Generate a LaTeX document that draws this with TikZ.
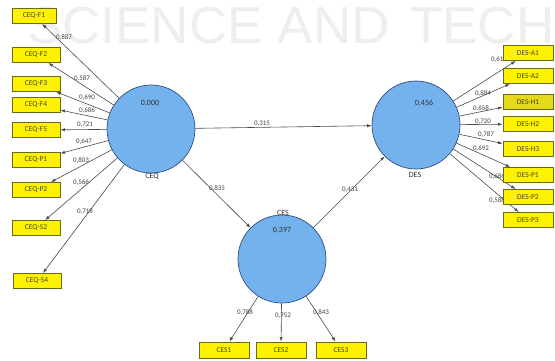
\documentclass[tikz,border=0pt]{standalone}
\usepackage{fontspec}
\setmainfont{Carlito}
\newfontfamily\wmfont{Liberation Sans}
\usetikzlibrary{arrows.meta}
\definecolor{lvf}{HTML}{74B2EE}
\definecolor{lvb}{HTML}{2E4F80}
\definecolor{indb}{HTML}{6A6A10}
\definecolor{indt}{HTML}{45451A}
\definecolor{arrc}{HTML}{4A4A4A}
\definecolor{wlc}{HTML}{444444}
\definecolor{wmc}{HTML}{EEEEEE}
\pgfdeclarelayer{wm}
\pgfdeclarelayer{bg}
\pgfsetlayers{wm,bg,main}
\tikzset{
  lv/.style={circle, draw=lvb, fill=lvf, line width=0.7pt, minimum size=88pt, inner sep=0pt},
  ind/.style={rectangle, draw=indb, fill=yellow, line width=0.9pt, minimum width=48pt, minimum height=15pt, inner sep=0pt, font=\fontsize{7.5}{8}\selectfont, text=indt},
  arr/.style={-{Latex[length=4.5pt,width=3.2pt]}, draw=arrc, line width=0.6pt},
  wl/.style={font=\fontsize{7}{8}\selectfont, text=wlc, inner sep=0.5pt},
  lvt/.style={font=\fontsize{8}{9}\selectfont, text=black!80, inner sep=0.5pt},
  wmt/.style={font=\wmfont\fontsize{52}{52}\selectfont, text=wmc, anchor=base west, inner sep=0pt, xscale=1.02}
}
\begin{document}
\begin{tikzpicture}[x=1pt,y=-1pt]
\useasboundingbox (0,0) rectangle (555,360);
\begin{pgfonlayer}{wm}
\fill[white] (0,0) rectangle (555,360);
\node[wmt] (wm1) at (27,43) {SCIENCE AND};
\node[wmt] (wm2) at (410,43) {TECH};
\end{pgfonlayer}

% latent variables
\node[lv] (ceq) at (151,129) {};
\node[lv] (des) at (416,125) {};
\node[lv] (ces) at (282,259) {};
\node[lvt] (ceqv) at (150,103) {0,000};
\node[lvt] (ceqn) at (152,176) {CEQ};
\node[lvt] (desv) at (424,103) {0,456};
\node[lvt] (desn) at (415,175) {DES};
\node[lvt] (cesn) at (283,213) {CES};
\node[lvt] (cesv) at (282,230) {0,397};

% CEQ indicators
\node[ind, minimum width=44pt] (f1) at (34,16) {CEQ-F1};
\node[ind] (f2) at (36,55) {CEQ-F2};
\node[ind] (f3) at (36,84) {CEQ-F3};
\node[ind] (f4) at (36,105) {CEQ-F4};
\node[ind] (f5) at (36,130) {CEQ-F5};
\node[ind] (p1) at (36,160) {CEQ-P1};
\node[ind] (p2) at (36,190) {CEQ-P2};
\node[ind] (s2) at (36,228) {CEQ-S2};
\node[ind] (s4) at (37,281) {CEQ-S4};

% DES indicators
\node[ind, minimum width=50pt] (a1) at (528,53) {DES-A1};
\node[ind, minimum width=50pt] (a2) at (528,76) {DES-A2};
\node[ind, minimum width=50pt, fill=yellow!88!black] (h1) at (528,102) {DES-H1};
\node[ind, minimum width=50pt] (h2) at (528,124) {DES-H2};
\node[ind, minimum width=50pt] (h3) at (528,149) {DES-H3};
\node[ind, minimum width=50pt] (dp1) at (528,175) {DES-P1};
\node[ind, minimum width=50pt] (dp2) at (528,197) {DES-P2};
\node[ind, minimum width=50pt] (dp3) at (528,220) {DES-P3};

% CES indicators
\node[ind, minimum width=50pt, minimum height=16pt] (c1) at (224,350) {CES1};
\node[ind, minimum width=50pt, minimum height=16pt] (c2) at (281,350) {CES2};
\node[ind, minimum width=50pt, minimum height=16pt] (c3) at (341,350) {CES3};

\begin{pgfonlayer}{bg}
\foreach \t in {f1,f2,f3,f4,f5,p1,p2,s2,s4} \draw[arr] (ceq) -- (\t);
\foreach \t in {a1,a2,h1,h2,h3,dp1,dp2,dp3} \draw[arr] (des) -- (\t);
\foreach \t in {c1,c2,c3} \draw[arr] (ces) -- (\t);
\draw[arr] (ceq) -- (des);
\draw[arr] (ceq) -- (ces);
\draw[arr] (ces) -- (des);

% outer loadings
\node[wl] (w1) at (64,38) {0,887};
\node[wl] (w2) at (82,79) {0,587};
\node[wl] (w3) at (87,98) {0,690};
\node[wl] (w4) at (87,111) {0,686};
\node[wl] (w5) at (85,125) {0,721};
\node[wl] (w6) at (84,142) {0,647};
\node[wl] (w7) at (81,161) {0,803};
\node[wl] (w8) at (81,183) {0,566};
\node[wl] (w9) at (85,212) {0,718};

\node[wl] (d1) at (499,60) {0,616};
\node[wl] (d2) at (483,94) {0,884};
\node[wl] (d3) at (481,109) {0,658};
\node[wl] (d4) at (483,122) {0,720};
\node[wl] (d5) at (486,135) {0,787};
\node[wl] (d6) at (481,149) {0,692};
\node[wl] (d7) at (497,177) {0,686};
\node[wl] (d8) at (497,201) {0,588};

\node[wl] (e1) at (245,313) {0,788};
\node[wl] (e2) at (283,316) {0,752};
\node[wl] (e3) at (321,313) {0,843};

% path coefficients
\node[wl] (b1) at (262,124) {0,315};
\node[wl] (b2) at (217,189) {0,835};
\node[wl] (b3) at (350,190) {0,431};
\end{pgfonlayer}
\end{tikzpicture}
\end{document}
